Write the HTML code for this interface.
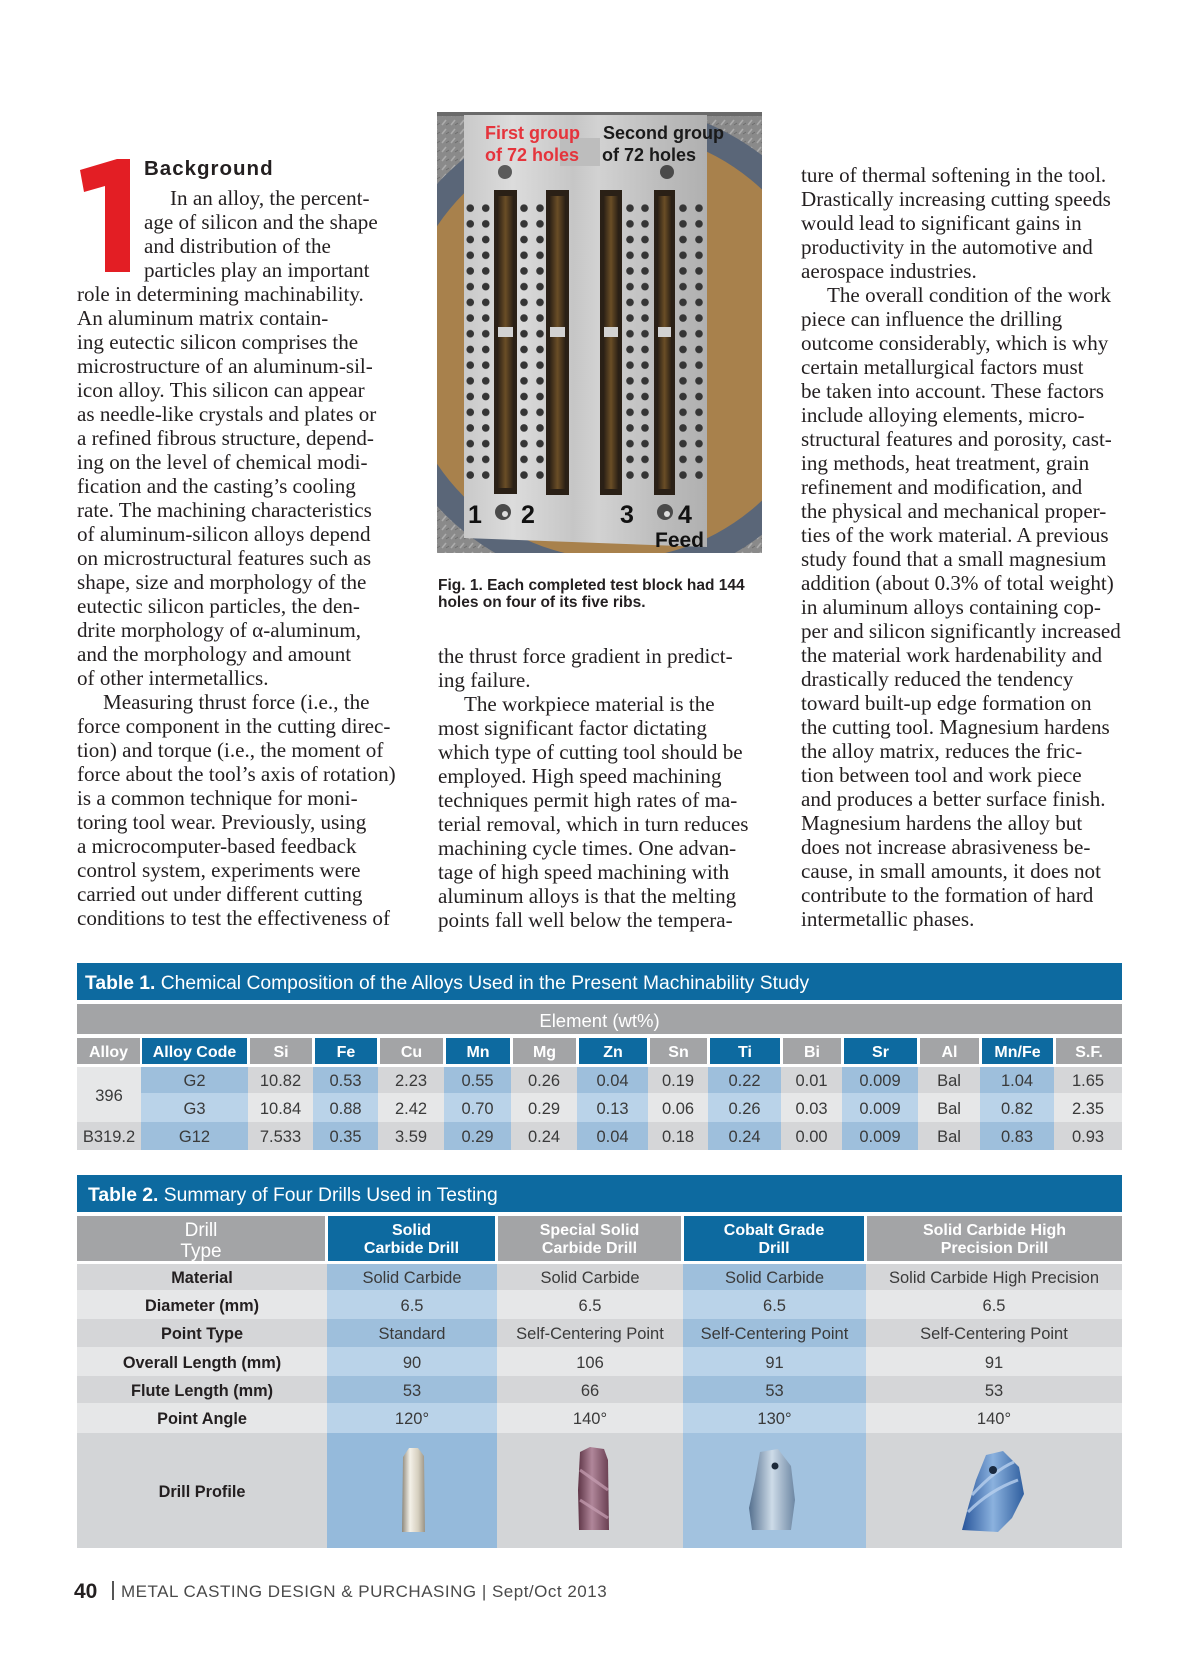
<!DOCTYPE html>
<html><head><meta charset="utf-8">
<style>
*{margin:0;padding:0;box-sizing:border-box}
body{width:1200px;height:1655px;background:#fff;position:relative;overflow:hidden;font-family:"Liberation Sans",sans-serif}
.abs{position:absolute}
.col{position:absolute;font-family:"Liberation Serif",serif;font-size:21.1px;line-height:24.03px;color:#231f20;white-space:nowrap}
.col div{height:24.03px}
.ind{padding-left:26px}
.c{position:absolute;display:flex;align-items:center;justify-content:center;text-align:center;white-space:nowrap;padding-top:3px}
.hb{color:#fff;font-weight:bold;font-size:16px}
.g{background:#a3a4a6}
.b{background:#0d6aa0}
.d{color:#3a3a3a;font-size:16.5px}
.gd{background:#d5d6d8}.gl{background:#e6e7e8}
.bd{background:#9ebfdc}.bl{background:#bad3e9}
.lab{color:#231f20;font-weight:bold;font-size:16.3px}
.title{position:absolute;background:#0d6aa0;color:#fff;font-size:19.3px;display:flex;align-items:center;white-space:nowrap;padding-top:5px}
</style></head>
<body>

<!-- Drop cap 1 -->
<svg class="abs" style="left:0;top:0" width="200" height="300" viewBox="0 0 200 300">
<polygon points="80,170 117,159 130,159 130,272 105,272 105,186 84,192" fill="#e31e24"/>
</svg>
<div class="abs" style="left:144px;top:157px;font-size:20.5px;font-weight:bold;letter-spacing:1px;color:#231f20;line-height:24px">Background</div>

<!-- Left column -->
<div class="col" style="left:77px;top:186px">
<div style="padding-left:93px">In an alloy, the percent-</div>
<div style="padding-left:67px">age of silicon and the shape</div>
<div style="padding-left:67px">and distribution of the</div>
<div style="padding-left:67px">particles play an important</div>
<div>role in determining machinability.</div>
<div>An aluminum matrix contain-</div>
<div>ing eutectic silicon comprises the</div>
<div>microstructure of an aluminum-sil-</div>
<div>icon alloy. This silicon can appear</div>
<div>as needle-like crystals and plates or</div>
<div>a refined fibrous structure, depend-</div>
<div>ing on the level of chemical modi-</div>
<div>fication and the casting’s cooling</div>
<div>rate. The machining characteristics</div>
<div>of aluminum-silicon alloys depend</div>
<div>on microstructural features such as</div>
<div>shape, size and morphology of the</div>
<div>eutectic silicon particles, the den-</div>
<div>drite morphology of α-aluminum,</div>
<div>and the morphology and amount</div>
<div>of other intermetallics.</div>
<div class="ind">Measuring thrust force (i.e., the</div>
<div>force component in the cutting direc-</div>
<div>tion) and torque (i.e., the moment of</div>
<div>force about the tool’s axis of rotation)</div>
<div>is a common technique for moni-</div>
<div>toring tool wear. Previously, using</div>
<div>a microcomputer-based feedback</div>
<div>control system, experiments were</div>
<div>carried out under different cutting</div>
<div>conditions to test the effectiveness of</div>
</div>

<!-- Photo -->
<svg class="abs" style="left:437px;top:112px" width="325" height="441" viewBox="437 112 325 441">
<defs>
<pattern id="dp" width="9" height="9" patternUnits="userSpaceOnUse">
<rect width="9" height="9" fill="#8a8a8a"/><path d="M1 8 L5 3" stroke="#acacac" stroke-width="1.6"/><path d="M5 8 L8 6" stroke="#6e6e6e" stroke-width="1"/>
</pattern>
<linearGradient id="pl" x1="0" y1="0" x2="1" y2="0">
<stop offset="0" stop-color="#c9c9c9"/><stop offset="0.2" stop-color="#dcdcdc"/><stop offset="0.45" stop-color="#c6c6c6"/><stop offset="0.55" stop-color="#d2d2d2"/><stop offset="0.8" stop-color="#bdbdbd"/><stop offset="1" stop-color="#b0b0b0"/>
</linearGradient>
<linearGradient id="sl" x1="0" y1="0" x2="1" y2="0">
<stop offset="0" stop-color="#2e2216"/><stop offset="0.5" stop-color="#6a4e26"/><stop offset="1" stop-color="#2e2216"/>
</linearGradient>
<pattern id="h1" x="462.5" y="200.3" width="15.5" height="15.7" patternUnits="userSpaceOnUse"><circle cx="7.75" cy="7.85" r="3.8" fill="#353535"/></pattern>
<pattern id="h2" x="516" y="200.3" width="16" height="15.7" patternUnits="userSpaceOnUse"><circle cx="8" cy="7.85" r="3.8" fill="#353535"/></pattern>
<pattern id="h3" x="622.5" y="200.3" width="15" height="15.7" patternUnits="userSpaceOnUse"><circle cx="7.5" cy="7.85" r="3.8" fill="#353535"/></pattern>
<pattern id="h4" x="675" y="200.3" width="16" height="15.7" patternUnits="userSpaceOnUse"><circle cx="8" cy="7.85" r="3.8" fill="#353535"/></pattern>
</defs>
<rect x="437" y="112" width="325" height="441" fill="url(#dp)"/>
<circle cx="615" cy="345" r="240" fill="#5a6678"/>
<circle cx="615" cy="345" r="214" fill="#a8814c"/>
<rect x="437" y="112" width="325" height="4" fill="#6a6a6a"/>
<polygon points="464,115 707,115 707,547 464,538" fill="url(#pl)"/>
<rect x="560" y="138" width="40" height="28" fill="#bdbdbd"/>
<!-- slots -->
<rect x="494" y="190" width="23" height="304" fill="#2a2016"/><rect x="498" y="196" width="15" height="292" fill="url(#sl)"/>
<rect x="546" y="190" width="23" height="305" fill="#2a2016"/><rect x="550" y="196" width="15" height="293" fill="url(#sl)"/>
<rect x="600" y="190" width="22" height="305" fill="#2a2016"/><rect x="604" y="196" width="14" height="293" fill="url(#sl)"/>
<rect x="654" y="190" width="21" height="305" fill="#2a2016"/><rect x="658" y="196" width="13" height="293" fill="url(#sl)"/>
<rect x="498" y="327" width="15" height="10" fill="#d2d2d2"/>
<rect x="550" y="327" width="15" height="10" fill="#d2d2d2"/>
<rect x="604" y="327" width="14" height="10" fill="#d2d2d2"/>
<rect x="658" y="327" width="13" height="10" fill="#d2d2d2"/>
<!-- holes -->
<rect x="462.5" y="200.3" width="31" height="282.6" fill="url(#h1)"/>
<rect x="516" y="200.3" width="32" height="282.6" fill="url(#h2)"/>
<rect x="622.5" y="200.3" width="30" height="282.6" fill="url(#h3)"/>
<rect x="675" y="200.3" width="32" height="282.6" fill="url(#h4)"/>
<circle cx="505" cy="172" r="7" fill="#5a5a5a"/>
<circle cx="667" cy="172" r="7" fill="#4a4a4a"/>
<circle cx="503" cy="512" r="8" fill="#4a4a4a"/><circle cx="505" cy="514" r="3" fill="#ddd"/>
<circle cx="665" cy="512" r="8" fill="#4a4a4a"/><circle cx="667" cy="514" r="3" fill="#ddd"/>
<g font-family="Liberation Sans, sans-serif" font-weight="bold">
<text x="485" y="139" font-size="18" fill="#e5343c">First group</text>
<text x="485" y="161" font-size="18" fill="#e5343c">of 72 holes</text>
<text x="603" y="139" font-size="18" fill="#1a1a1a">Second group</text>
<text x="602" y="161" font-size="18" fill="#1a1a1a">of 72 holes</text>
<text x="475" y="523" font-size="25" fill="#111" text-anchor="middle">1</text>
<text x="528" y="523" font-size="25" fill="#111" text-anchor="middle">2</text>
<text x="627" y="523" font-size="25" fill="#111" text-anchor="middle">3</text>
<text x="685" y="523" font-size="25" fill="#111" text-anchor="middle">4</text>
<text x="655" y="547" font-size="21" fill="#111">Feed</text>
</g>
</svg>
<div class="abs" style="left:438px;top:577px;font-size:15.5px;font-weight:bold;line-height:17px;color:#231f20;white-space:nowrap">Fig. 1. Each completed test block had 144<br>holes on four of its five ribs.</div>

<!-- Middle column -->
<div class="col" style="left:438px;top:644px">
<div>the thrust force gradient in predict-</div>
<div>ing failure.</div>
<div class="ind">The workpiece material is the</div>
<div>most significant factor dictating</div>
<div>which type of cutting tool should be</div>
<div>employed. High speed machining</div>
<div>techniques permit high rates of ma-</div>
<div>terial removal, which in turn reduces</div>
<div>machining cycle times. One advan-</div>
<div>tage of high speed machining with</div>
<div>aluminum alloys is that the melting</div>
<div>points fall well below the tempera-</div>
</div>

<!-- Right column -->
<div class="col" style="left:801px;top:163px">
<div>ture of thermal softening in the tool.</div>
<div>Drastically increasing cutting speeds</div>
<div>would lead to significant gains in</div>
<div>productivity in the automotive and</div>
<div>aerospace industries.</div>
<div class="ind">The overall condition of the work</div>
<div>piece can influence the drilling</div>
<div>outcome considerably, which is why</div>
<div>certain metallurgical factors must</div>
<div>be taken into account. These factors</div>
<div>include alloying elements, micro-</div>
<div>structural features and porosity, cast-</div>
<div>ing methods, heat treatment, grain</div>
<div>refinement and modification, and</div>
<div>the physical and mechanical proper-</div>
<div>ties of the work material. A previous</div>
<div>study found that a small magnesium</div>
<div>addition (about 0.3% of total weight)</div>
<div>in aluminum alloys containing cop-</div>
<div>per and silicon significantly increased</div>
<div>the material work hardenability and</div>
<div>drastically reduced the tendency</div>
<div>toward built-up edge formation on</div>
<div>the cutting tool. Magnesium hardens</div>
<div>the alloy matrix, reduces the fric-</div>
<div>tion between tool and work piece</div>
<div>and produces a better surface finish.</div>
<div>Magnesium hardens the alloy but</div>
<div>does not increase abrasiveness be-</div>
<div>cause, in small amounts, it does not</div>
<div>contribute to the formation of hard</div>
<div>intermetallic phases.</div>
</div>

<!-- TABLE 1 -->
<div class="title" style="left:77px;top:963px;width:1045px;height:37px;padding-left:8px"><b>Table 1.</b>&nbsp;Chemical Composition of the Alloys Used in the Present Machinability Study</div>
<div class="c g" style="left:77px;top:1004px;width:1045px;height:30px;color:#fff;font-size:18.5px">Element (wt%)</div>

<div class="c g hb" style="left:77px;top:1038px;width:63px;height:26px">Alloy</div>
<div class="c b hb" style="left:142px;top:1038px;width:105px;height:26px">Alloy Code</div>
<div class="c g hb" style="left:250px;top:1038px;width:62px;height:26px">Si</div>
<div class="c b hb" style="left:315px;top:1038px;width:62px;height:26px">Fe</div>
<div class="c g hb" style="left:380px;top:1038px;width:63px;height:26px">Cu</div>
<div class="c b hb" style="left:446px;top:1038px;width:64px;height:26px">Mn</div>
<div class="c g hb" style="left:513px;top:1038px;width:63px;height:26px">Mg</div>
<div class="c b hb" style="left:579px;top:1038px;width:68px;height:26px">Zn</div>
<div class="c g hb" style="left:650px;top:1038px;width:57px;height:26px">Sn</div>
<div class="c b hb" style="left:710px;top:1038px;width:70px;height:26px">Ti</div>
<div class="c g hb" style="left:783px;top:1038px;width:58px;height:26px">Bi</div>
<div class="c b hb" style="left:844px;top:1038px;width:73px;height:26px">Sr</div>
<div class="c g hb" style="left:920px;top:1038px;width:59px;height:26px">Al</div>
<div class="c b hb" style="left:982px;top:1038px;width:71px;height:26px">Mn/Fe</div>
<div class="c g hb" style="left:1056px;top:1038px;width:66px;height:26px">S.F.</div>

<!-- row G2 -->
<div class="c gl d" style="left:77px;top:1067px;width:64px;height:55px">396</div>
<div class="c bd d" style="left:141px;top:1067px;width:107px;height:26px">G2</div>
<div class="c gd d" style="left:248px;top:1067px;width:65px;height:26px">10.82</div>
<div class="c bd d" style="left:313px;top:1067px;width:65px;height:26px">0.53</div>
<div class="c gd d" style="left:378px;top:1067px;width:66px;height:26px">2.23</div>
<div class="c bd d" style="left:444px;top:1067px;width:67px;height:26px">0.55</div>
<div class="c gd d" style="left:511px;top:1067px;width:66px;height:26px">0.26</div>
<div class="c bd d" style="left:577px;top:1067px;width:71px;height:26px">0.04</div>
<div class="c gd d" style="left:648px;top:1067px;width:60px;height:26px">0.19</div>
<div class="c bd d" style="left:708px;top:1067px;width:73px;height:26px">0.22</div>
<div class="c gd d" style="left:781px;top:1067px;width:61px;height:26px">0.01</div>
<div class="c bd d" style="left:842px;top:1067px;width:76px;height:26px">0.009</div>
<div class="c gd d" style="left:918px;top:1067px;width:62px;height:26px">Bal</div>
<div class="c bd d" style="left:980px;top:1067px;width:74px;height:26px">1.04</div>
<div class="c gd d" style="left:1054px;top:1067px;width:68px;height:26px">1.65</div>
<!-- row G3 -->
<div class="c bl d" style="left:141px;top:1093px;width:107px;height:29px">G3</div>
<div class="c gl d" style="left:248px;top:1093px;width:65px;height:29px">10.84</div>
<div class="c bl d" style="left:313px;top:1093px;width:65px;height:29px">0.88</div>
<div class="c gl d" style="left:378px;top:1093px;width:66px;height:29px">2.42</div>
<div class="c bl d" style="left:444px;top:1093px;width:67px;height:29px">0.70</div>
<div class="c gl d" style="left:511px;top:1093px;width:66px;height:29px">0.29</div>
<div class="c bl d" style="left:577px;top:1093px;width:71px;height:29px">0.13</div>
<div class="c gl d" style="left:648px;top:1093px;width:60px;height:29px">0.06</div>
<div class="c bl d" style="left:708px;top:1093px;width:73px;height:29px">0.26</div>
<div class="c gl d" style="left:781px;top:1093px;width:61px;height:29px">0.03</div>
<div class="c bl d" style="left:842px;top:1093px;width:76px;height:29px">0.009</div>
<div class="c gl d" style="left:918px;top:1093px;width:62px;height:29px">Bal</div>
<div class="c bl d" style="left:980px;top:1093px;width:74px;height:29px">0.82</div>
<div class="c gl d" style="left:1054px;top:1093px;width:68px;height:29px">2.35</div>
<!-- row G12 -->
<div class="c gd d" style="left:77px;top:1122px;width:64px;height:28px">B319.2</div>
<div class="c bd d" style="left:141px;top:1122px;width:107px;height:28px">G12</div>
<div class="c gd d" style="left:248px;top:1122px;width:65px;height:28px">7.533</div>
<div class="c bd d" style="left:313px;top:1122px;width:65px;height:28px">0.35</div>
<div class="c gd d" style="left:378px;top:1122px;width:66px;height:28px">3.59</div>
<div class="c bd d" style="left:444px;top:1122px;width:67px;height:28px">0.29</div>
<div class="c gd d" style="left:511px;top:1122px;width:66px;height:28px">0.24</div>
<div class="c bd d" style="left:577px;top:1122px;width:71px;height:28px">0.04</div>
<div class="c gd d" style="left:648px;top:1122px;width:60px;height:28px">0.18</div>
<div class="c bd d" style="left:708px;top:1122px;width:73px;height:28px">0.24</div>
<div class="c gd d" style="left:781px;top:1122px;width:61px;height:28px">0.00</div>
<div class="c bd d" style="left:842px;top:1122px;width:76px;height:28px">0.009</div>
<div class="c gd d" style="left:918px;top:1122px;width:62px;height:28px">Bal</div>
<div class="c bd d" style="left:980px;top:1122px;width:74px;height:28px">0.83</div>
<div class="c gd d" style="left:1054px;top:1122px;width:68px;height:28px">0.93</div>

<!-- TABLE 2 -->
<div class="title" style="left:77px;top:1175px;width:1045px;height:37px;padding-left:11px"><b>Table 2.</b>&nbsp;Summary of Four Drills Used in Testing</div>

<div class="c g" style="left:77px;top:1216px;width:248px;height:45px;color:#fff;font-size:19px;line-height:21px;padding-top:4px">Drill<br>Type</div>
<div class="c b hb" style="left:328px;top:1216px;width:167px;height:45px;line-height:18px">Solid<br>Carbide Drill</div>
<div class="c g hb" style="left:498px;top:1216px;width:183px;height:45px;line-height:18px">Special Solid<br>Carbide Drill</div>
<div class="c b hb" style="left:684px;top:1216px;width:180px;height:45px;line-height:18px">Cobalt Grade<br>Drill</div>
<div class="c g hb" style="left:867px;top:1216px;width:255px;height:45px;line-height:18px">Solid Carbide High<br>Precision Drill</div>

<div class="c gd lab" style="left:77px;top:1264px;width:250px;height:26px">Material</div>
<div class="c bd d" style="left:327px;top:1264px;width:170px;height:26px">Solid Carbide</div>
<div class="c gd d" style="left:497px;top:1264px;width:186px;height:26px">Solid Carbide</div>
<div class="c bd d" style="left:683px;top:1264px;width:183px;height:26px">Solid Carbide</div>
<div class="c gd d" style="left:866px;top:1264px;width:256px;height:26px">Solid Carbide High Precision</div>

<div class="c gl lab" style="left:77px;top:1290px;width:250px;height:29px">Diameter (mm)</div>
<div class="c bl d" style="left:327px;top:1290px;width:170px;height:29px">6.5</div>
<div class="c gl d" style="left:497px;top:1290px;width:186px;height:29px">6.5</div>
<div class="c bl d" style="left:683px;top:1290px;width:183px;height:29px">6.5</div>
<div class="c gl d" style="left:866px;top:1290px;width:256px;height:29px">6.5</div>

<div class="c gd lab" style="left:77px;top:1319px;width:250px;height:28px">Point Type</div>
<div class="c bd d" style="left:327px;top:1319px;width:170px;height:28px">Standard</div>
<div class="c gd d" style="left:497px;top:1319px;width:186px;height:28px">Self-Centering Point</div>
<div class="c bd d" style="left:683px;top:1319px;width:183px;height:28px">Self-Centering Point</div>
<div class="c gd d" style="left:866px;top:1319px;width:256px;height:28px">Self-Centering Point</div>

<div class="c gl lab" style="left:77px;top:1347px;width:250px;height:29px">Overall Length (mm)</div>
<div class="c bl d" style="left:327px;top:1347px;width:170px;height:29px">90</div>
<div class="c gl d" style="left:497px;top:1347px;width:186px;height:29px">106</div>
<div class="c bl d" style="left:683px;top:1347px;width:183px;height:29px">91</div>
<div class="c gl d" style="left:866px;top:1347px;width:256px;height:29px">91</div>

<div class="c gd lab" style="left:77px;top:1376px;width:250px;height:27px">Flute Length (mm)</div>
<div class="c bd d" style="left:327px;top:1376px;width:170px;height:27px">53</div>
<div class="c gd d" style="left:497px;top:1376px;width:186px;height:27px">66</div>
<div class="c bd d" style="left:683px;top:1376px;width:183px;height:27px">53</div>
<div class="c gd d" style="left:866px;top:1376px;width:256px;height:27px">53</div>

<div class="c gl lab" style="left:77px;top:1403px;width:250px;height:30px">Point Angle</div>
<div class="c bl d" style="left:327px;top:1403px;width:170px;height:30px">120°</div>
<div class="c gl d" style="left:497px;top:1403px;width:186px;height:30px">140°</div>
<div class="c bl d" style="left:683px;top:1403px;width:183px;height:30px">130°</div>
<div class="c gl d" style="left:866px;top:1403px;width:256px;height:30px">140°</div>

<div class="c lab" style="left:77px;top:1433px;width:250px;height:115px;background:#d3d5d7">Drill Profile</div>
<div class="abs" style="left:327px;top:1433px;width:170px;height:115px;background:#95badb"></div>
<div class="abs" style="left:497px;top:1433px;width:186px;height:115px;background:#d3d5d7"></div>
<div class="abs" style="left:683px;top:1433px;width:183px;height:115px;background:#a2c2df"></div>
<div class="abs" style="left:866px;top:1433px;width:256px;height:115px;background:#d3d5d7"></div>

<svg class="abs" style="left:380px;top:1440px" width="680" height="100" viewBox="380 1440 680 100">
<defs>
<linearGradient id="d1" x1="0" y1="0" x2="1" y2="0"><stop offset="0" stop-color="#8d877a"/><stop offset="0.35" stop-color="#f4f1e8"/><stop offset="0.7" stop-color="#d6cfbf"/><stop offset="1" stop-color="#9a9384"/></linearGradient>
<linearGradient id="d2" x1="0" y1="0" x2="1" y2="0"><stop offset="0" stop-color="#5e3446"/><stop offset="0.45" stop-color="#b0879a"/><stop offset="1" stop-color="#6a3f52"/></linearGradient>
<linearGradient id="d3" x1="0" y1="0" x2="1" y2="0"><stop offset="0" stop-color="#55708f"/><stop offset="0.5" stop-color="#cddbe8"/><stop offset="1" stop-color="#6d87a3"/></linearGradient>
<linearGradient id="d4" x1="0" y1="0" x2="1" y2="0"><stop offset="0" stop-color="#27549a"/><stop offset="0.5" stop-color="#8bb2de"/><stop offset="1" stop-color="#2f5e9f"/></linearGradient>
</defs>
<polygon points="403,1457 409,1448 418,1448 424,1456 425,1532 402,1532" fill="url(#d1)"/>
<polygon points="580,1452 590,1447 604,1449 608,1460 609,1530 579,1530 578,1490" fill="url(#d2)"/>
<path d="M580 1470 L608 1490 M580 1500 L608 1518" stroke="#c8a0b4" stroke-width="3" opacity="0.7"/>
<polygon points="760,1452 778,1449 791,1466 795,1500 791,1530 752,1530 749,1508 755,1480" fill="url(#d3)"/>
<circle cx="775" cy="1466" r="3.5" fill="#1d2a3a"/>
<polygon points="986,1455 1003,1451 1019,1467 1024,1494 1012,1518 998,1532 962,1530 969,1504 976,1480" fill="url(#d4)"/>
<path d="M968 1512 Q990 1490 1018 1480 M972 1495 Q995 1470 1014 1462" stroke="#b8d0ee" stroke-width="3" fill="none" opacity="0.8"/>
<circle cx="993" cy="1470" r="4" fill="#1a2a40"/>
</svg>

<!-- Footer -->
<div class="abs" style="left:74px;top:1579px;font-size:21px;font-weight:bold;line-height:26px;color:#231f20">40</div>
<div class="abs" style="left:112px;top:1581px;width:1.5px;height:19px;background:#555"></div>
<div class="abs" style="left:121px;top:1581px;font-size:17px;letter-spacing:0.5px;line-height:22px;color:#4a4a4a;white-space:nowrap">METAL CASTING DESIGN &amp; PURCHASING | Sept/Oct 2013</div>

</body></html>
